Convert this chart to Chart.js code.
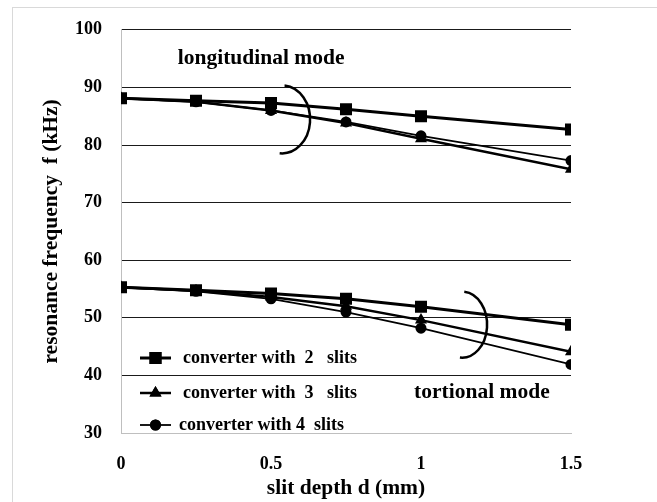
<!DOCTYPE html>
<html>
<head>
<meta charset="utf-8">
<script src="https://cdn.jsdelivr.net/npm/chart.js@4.4.1/dist/chart.umd.min.js"></script>
<style>
  html, body { margin: 0; padding: 0; background: #fff; }
  #wrap { width: 657px; height: 502px; position: relative; }
</style>
</head>
<body>
<div id="wrap"><canvas id="c" width="657" height="502"></canvas></div>
<script>
// ---- data ----
const slitDepth = [0, 0.25, 0.5, 0.75, 1, 1.5];
const seriesLabels = ['converter with  2   slits', 'converter with  3   slits', 'converter with 4  slits'];
const longi2 = [88.1, 87.7, 87.3, 86.2, 85.0, 82.7];
const longi3 = [88.1, 87.5, 86.0, 83.8, 81.1, 75.8];
const longi4 = [88.1, 87.5, 86.0, 84.0, 81.6, 77.3];
const tors2 = [55.3, 54.8, 54.2, 53.3, 51.9, 48.8];
const tors3 = [55.3, 54.7, 53.6, 52.0, 49.6, 44.1];
const tors4 = [55.3, 54.6, 53.3, 51.0, 48.2, 41.9];
const xTicks = [0, 0.5, 1, 1.5];
const yTicks = [30, 40, 50, 60, 70, 80, 90, 100];

const FONT = "'Liberation Serif', 'Times New Roman', serif";
const styles = [
  { pointStyle: 'rect', pointRadius: 8.5, borderWidth: 3 },
  { pointStyle: 'triangle', pointRadius: 7, borderWidth: 2.5 },
  { pointStyle: 'circle', pointRadius: 5.5, borderWidth: 1.8 }
];
function mk(vals, i, mode) {
  return {
    label: seriesLabels[i],
    mode: mode,
    series: i,
    data: slitDepth.map((x, k) => ({ x: x, y: vals[k] })),
    borderColor: '#000',
    backgroundColor: '#000',
    pointBackgroundColor: '#000',
    pointBorderColor: '#000',
    pointBorderWidth: 0,
    pointStyle: styles[i].pointStyle,
    pointRadius: styles[i].pointRadius,
    pointHoverRadius: styles[i].pointRadius,
    borderWidth: styles[i].borderWidth,
    tension: 0,
    fill: false
  };
}
const datasets = [
  mk(longi4, 2, 'L'), mk(longi3, 1, 'L'), mk(longi2, 0, 'L'),
  mk(tors4, 2, 'T'), mk(tors3, 1, 'T'), mk(tors2, 0, 'T')
];

// annotations in data coordinates
const texts = [
  { text: 'longitudinal mode', x: 0.467, y: 95.0 },
  { text: 'tortional mode', x: 1.203, y: 37.0 }
];
const arcs = [
  { x: 0.537, y: 84.45, rx: 28, ry: 34 },
  { x: 1.137, y: 48.8, rx: 25, ry: 33 }
];

const decor = {
  id: 'decor',
  beforeDraw(chart) {
    const ctx = chart.ctx;
    ctx.save();
    ctx.fillStyle = '#fff';
    ctx.fillRect(0, 0, chart.width, chart.height);
    ctx.strokeStyle = '#d9d9d9';
    ctx.lineWidth = 1;
    ctx.strokeRect(12.5, 7.5, 700, 600);
    ctx.restore();
  },
  afterDatasetsDraw(chart) {
    const ctx = chart.ctx;
    const xs = chart.scales.x, ys = chart.scales.y;
    ctx.save();
    ctx.fillStyle = '#000';
    ctx.font = 'bold 21.5px ' + FONT;
    ctx.textAlign = 'center';
    ctx.textBaseline = 'middle';
    texts.forEach(t => ctx.fillText(t.text, xs.getPixelForValue(t.x), ys.getPixelForValue(t.y)));
    ctx.strokeStyle = '#000';
    ctx.lineWidth = 2.5;
    arcs.forEach(a => {
      ctx.beginPath();
      ctx.ellipse(xs.getPixelForValue(a.x), ys.getPixelForValue(a.y), a.rx, a.ry, 0, -85 * Math.PI / 180, 95 * Math.PI / 180);
      ctx.stroke();
    });
    // legend (inside plot area)
    const ca = chart.chartArea;
    const legendDs = chart.data.datasets.filter(d => d.mode === 'T').sort((a, b) => a.series - b.series);
    const rowsY = [358, 393, 425];
    const textX = [183, 183, 179];
    ctx.font = 'bold 18px ' + FONT;
    ctx.textAlign = 'left';
    legendDs.forEach((d, i) => {
      const y = rowsY[i];
      const x0 = ca.left + 19, x1 = ca.left + 50;
      ctx.beginPath();
      ctx.lineWidth = d.borderWidth;
      ctx.strokeStyle = d.borderColor;
      ctx.moveTo(x0, y); ctx.lineTo(x1, y);
      ctx.stroke();
      Chart.helpers.drawPoint(ctx, { pointStyle: d.pointStyle, radius: d.pointRadius, borderWidth: 0, rotation: 0 }, (x0 + x1) / 2, y);
      ctx.fillStyle = '#000';
      ctx.fill();
      ctx.fillText(d.label, textX[i], y);
    });
    ctx.restore();
  }
};

new Chart(document.getElementById('c'), {
  type: 'line',
  data: { datasets: datasets },
  options: {
    responsive: false,
    animation: false,
    events: [],
    layout: { padding: { top: 28, right: 86, left: 0, bottom: 0 } },
    plugins: { legend: { display: false }, tooltip: { enabled: false } },
    scales: {
      x: {
        type: 'linear',
        min: 0, max: 1.5,
        afterBuildTicks: s => { s.ticks = xTicks.map(v => ({ value: v })); },
        afterFit: s => { s.height = 69; },
        grid: { display: false, drawTicks: false },
        border: { display: true, color: '#bfbfbf', width: 1 },
        ticks: {
          color: '#000', padding: 21, maxRotation: 0, autoSkip: false,
          font: { family: FONT, size: 18, weight: 'bold' },
          callback: v => String(v)
        },
        title: {
          display: true, text: 'slit depth d (mm)', color: '#000',
          font: { family: FONT, size: 21.5, weight: 'bold' },
          padding: { top: 0, bottom: 1 }
        }
      },
      y: {
        min: 30, max: 100,
        afterBuildTicks: s => { s.ticks = yTicks.map(v => ({ value: v })); },
        afterFit: s => { s.width = 121; },
        grid: {
          drawTicks: false,
          color: c => (c.tick && c.tick.value === 30) ? '#bfbfbf' : '#1a1a1a',
          lineWidth: 1
        },
        border: { display: true, color: '#bfbfbf', width: 1 },
        ticks: {
          color: '#000', padding: 19,
          font: { family: FONT, size: 18, weight: 'bold' },
          callback: v => String(v)
        },
        title: {
          display: true, text: 'resonance frequency  f (kHz)', color: '#000',
          font: { family: FONT, size: 21.5, weight: 'bold' },
          padding: { top: 39, bottom: 0 }
        }
      }
    }
  },
  plugins: [decor]
});
</script>
</body>
</html>
